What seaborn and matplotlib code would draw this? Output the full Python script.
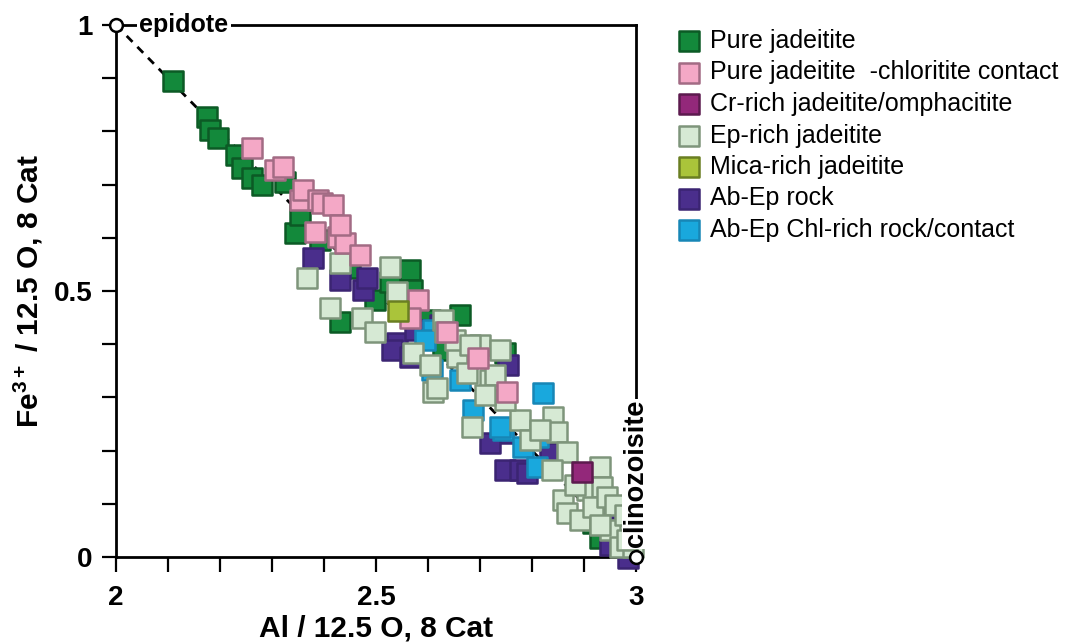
import matplotlib
matplotlib.use("Agg")
import matplotlib.pyplot as plt
import seaborn as sns
import pandas as pd
from matplotlib.ticker import MultipleLocator

# ---------------- data (Al, Fe3+ per 12.5 O, 8 Cat) ----------------
pure_x = [2.110, 2.175, 2.181, 2.196, 2.231, 2.242, 2.262, 2.281, 2.325, 2.344,
          2.392, 2.431, 2.450, 2.565, 2.569, 2.662, 2.629, 2.748, 2.917, 2.931,
          2.604, 2.498, 2.354, 2.527]
pure_y = [0.895, 0.827, 0.803, 0.788, 0.756, 0.731, 0.712, 0.699, 0.705, 0.609,
          0.596, 0.442, 0.543, 0.539, 0.502, 0.455, 0.389, 0.383, 0.064, 0.036,
          0.445, 0.483, 0.643, 0.517]

pink_x = [2.262, 2.306, 2.321, 2.354, 2.360, 2.388, 2.396, 2.417, 2.383, 2.427,
          2.440, 2.469, 2.581, 2.565, 2.637, 2.696, 2.752, 2.431]
pink_y = [0.769, 0.727, 0.733, 0.671, 0.690, 0.671, 0.665, 0.662, 0.611, 0.602,
          0.590, 0.568, 0.483, 0.449, 0.423, 0.374, 0.310, 0.624]

cr_x = [2.896]
cr_y = [0.160]

ep_x = [2.367, 2.431, 2.412, 2.473, 2.498, 2.527, 2.540, 2.571, 2.610, 2.629,
        2.633, 2.656, 2.675, 2.617, 2.719, 2.685, 2.777, 2.840, 2.848, 2.867,
        2.838, 2.931, 2.906, 2.935, 2.860, 2.867, 2.892, 2.917, 2.950, 2.944,
        2.969, 2.994, 2.983, 2.700, 2.729, 2.748, 2.796, 2.815, 2.883, 2.960,
        2.604, 2.652, 2.931, 2.979, 2.738, 2.681, 2.710]
ep_y = [0.524, 0.553, 0.468, 0.449, 0.423, 0.545, 0.498, 0.383, 0.310, 0.445,
        0.423, 0.376, 0.346, 0.318, 0.333, 0.244, 0.258, 0.263, 0.235, 0.197,
        0.164, 0.169, 0.126, 0.132, 0.107, 0.083, 0.070, 0.094, 0.051, 0.113,
        0.019, 0.019, 0.032, 0.398, 0.342, 0.295, 0.220, 0.239, 0.135, 0.098,
        0.361, 0.408, 0.060, 0.079, 0.389, 0.398, 0.305]

mica_x = [2.542]
mica_y = [0.462]

abep_x = [2.379, 2.431, 2.475, 2.483, 2.540, 2.531, 2.565, 2.754, 2.744, 2.719,
          2.748, 2.777, 2.835, 2.790, 2.960, 2.950, 2.985, 2.623, 2.575]
abep_y = [0.562, 0.521, 0.502, 0.524, 0.402, 0.389, 0.376, 0.361, 0.233, 0.214,
          0.164, 0.164, 0.195, 0.158, 0.092, 0.023, -0.002, 0.436, 0.427]

chl_x = [2.610, 2.608, 2.687, 2.744, 2.783, 2.810, 2.821, 2.738, 2.812, 2.662, 2.594]
chl_y = [0.427, 0.352, 0.276, 0.239, 0.207, 0.169, 0.308, 0.244, 0.226, 0.333, 0.408]

end_x = [2.0, 3.0]
end_y = [1.0, 0.0]

groups = [
    ("Pure jadeitite", pure_x, pure_y, "#13893b", "#0c5a25"),
    ("Pure jadeitite  -chloritite contact", pink_x, pink_y, "#f4a8c6", "#a26b84"),
    ("Cr-rich jadeitite/omphacitite", cr_x, cr_y, "#93287a", "#5c1a4e"),
    ("Ep-rich jadeitite", ep_x, ep_y, "#d6e9d4", "#7e957b"),
    ("Mica-rich jadeitite", mica_x, mica_y, "#aac43a", "#6a7e22"),
    ("Ab-Ep rock", abep_x, abep_y, "#4a2e8c", "#3b2472"),
    ("Ab-Ep Chl-rich rock/contact", chl_x, chl_y, "#19a8dd", "#1786b6"),
]
draw_order = [0, 5, 6, 3, 1, 4, 2]

sns.set_style("white")
plt.rcParams["font.family"] = ["Liberation Sans", "DejaVu Sans"]
plt.rcParams["mathtext.fontset"] = "custom"
plt.rcParams["mathtext.rm"] = "Liberation Sans"
plt.rcParams["mathtext.bf"] = "Liberation Sans:bold"
for k in ["text.color", "axes.labelcolor", "xtick.color", "ytick.color",
          "axes.edgecolor"]:
    plt.rcParams[k] = "black"

fig = plt.figure(figsize=(10.71, 6.44), dpi=100)
ax = fig.add_axes([116 / 1071, 1 - 557 / 644, 520 / 1071, 532 / 644])

# dashed epidote-clinozoisite join
ax.plot(end_x, end_y, ls=(0, (3, 2.5)), color="black", lw=2, zorder=1)

for z, gi in enumerate(draw_order):
    name, xs, ys, fc, ec = groups[gi]
    df = pd.DataFrame({"x": xs, "y": ys})
    sns.scatterplot(data=df, x="x", y="y", ax=ax, marker="s", s=200,
                    color=fc, edgecolor=ec, linewidth=1.8, label=name,
                    clip_on=False, zorder=3 + z)

# endmember circles
sns.scatterplot(x=end_x, y=end_y, ax=ax, marker="o", s=85, color="white",
                edgecolor="black", linewidth=1.8, clip_on=False, zorder=20,
                legend=False)

ax.set_xlim(2, 3)
ax.set_ylim(0, 1)
ax.xaxis.set_minor_locator(MultipleLocator(0.1))
ax.yaxis.set_minor_locator(MultipleLocator(0.1))
ax.set_xticks([2, 2.5, 3])
ax.set_xticklabels(["2", "2.5", "3"])
ax.set_yticks([0, 0.5, 1])
ax.set_yticklabels(["0", "0.5", "1"])
ax.tick_params(axis="x", which="both", direction="out", length=11, width=1.6,
               bottom=True, top=False, pad=9, labelsize=20, colors="black")
ax.tick_params(axis="y", which="both", direction="out", length=10, width=1.6,
               left=True, right=False, pad=7, labelsize=20, colors="black")
for lab in ax.get_xticklabels() + ax.get_yticklabels():
    lab.set_fontweight("bold")
for sp in ax.spines.values():
    sp.set_visible(True)
    sp.set_color("black")
    sp.set_linewidth(2)

ax.set_xlabel("Al / 12.5 O, 8 Cat", fontsize=21.5, fontweight="bold",
              labelpad=3, color="black")
ax.set_ylabel(r"Fe$^{\mathbf{3+}}$ / 12.5 O, 8 Cat", fontsize=21.5,
              fontweight="bold", labelpad=6, color="black")

ax.text(2.045, 1.0, "epidote", fontsize=18, fontweight="bold", ha="left",
        va="center", zorder=15, color="black",
        bbox=dict(facecolor="white", edgecolor="none", pad=2))
ax.text(3.0, 0.018, "clinozoisite", fontsize=19.5, fontweight="bold", rotation=90,
        ha="center", va="bottom", zorder=15, color="black",
        bbox=dict(facecolor="white", edgecolor="none", pad=1))

# legend in figure order
h, l = ax.get_legend_handles_labels()
lab2h = dict(zip(l, h))
names = [g[0] for g in groups]
leg = fig.legend([lab2h[n] for n in names], names, loc="upper left",
                 bbox_to_anchor=(678 / 1071, 1 - 29 / 644), frameon=False,
                 fontsize=18, handlelength=0.9, handletextpad=0.4,
                 labelspacing=0.3, borderaxespad=0, borderpad=0,
                 markerscale=1.0)
for t in leg.get_texts():
    t.set_color("black")
if ax.get_legend() is not None:
    ax.get_legend().remove()

fig.savefig("out.png", dpi=100)
